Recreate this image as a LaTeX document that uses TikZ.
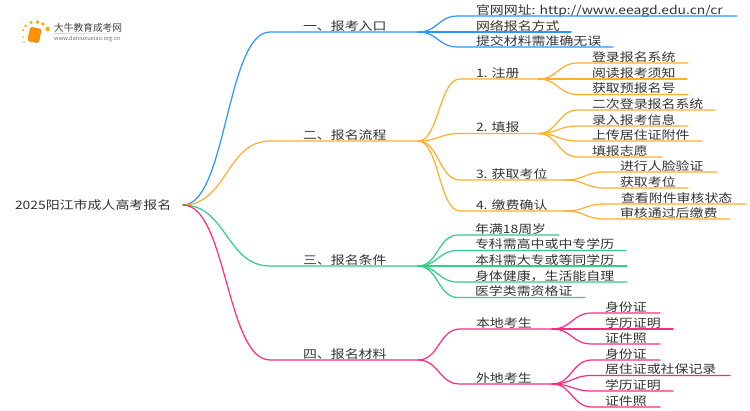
\documentclass[tikz,border=0pt]{standalone}
\usepackage{fontspec}
\usetikzlibrary{calc}
\setmainfont[FakeStretch=1.2]{Noto Sans CJK SC}
\newfontfamily\plaincjk{Noto Sans CJK SC}
\definecolor{cblue}{HTML}{2B95FF}
\definecolor{corange}{HTML}{FFAF2B}
\definecolor{cgreen}{HTML}{33CC88}
\definecolor{cpink}{HTML}{FF2A80}
\definecolor{ctext}{HTML}{333333}
\tikzset{
  lab/.style={anchor=base west,inner sep=0pt,outer sep=0pt,text=ctext,font=\fontsize{11.6}{12}\selectfont},
  wire/.style={line width=1.2pt,line cap=round},
}
% #1 colour, #2 parent, #3 name, #4 x start, #5 x end, #6 y, #7 x text, #8 text
\newcommand\twig[8]{%
  \coordinate (#3) at (#4,#6);
  \coordinate (#3-e) at (#5,#6);
  \coordinate (#3-m) at ($(#2)!0.5!(#3)$);
  \node[lab] (#3-t) at (#7,#6-2) {#8};
  \draw[wire,#1] (#2) .. controls (#3-m |- #2) and (#3-m |- #3) .. (#3) -- (#3-e);
}
\begin{document}
\begin{tikzpicture}[x=1pt,y=-1pt]
\useasboundingbox (0,0) rectangle (750,410);
\fill[white] (0,0) rectangle (750,410);
% logo
\foreach \i/\a/\b/\r in {1/23/30/1.1,2/25.5/26/1.3,3/31/22.5/1.7,4/37.5/22/1.8,5/43/24/1.8,6/47.5/29/2.2,7/23/37/0.9,8/24/42/0.8}
  \fill[orange!70!yellow] (\a,\b) circle (\r);
\node[draw=orange!90!black,fill=orange!85!yellow,rounded corners=1.5pt,minimum width=11pt,minimum height=14pt,inner sep=0pt,rotate=-12] (book) at (34.5,35) {};
\shade[left color=gray!35,right color=white] (54,33) rectangle (133,33.6);
\node[anchor=base west,inner sep=0pt,text=black!75] (brand) at (54,31) {\plaincjk\fontsize{9.7}{10}\selectfont 大牛教育成考网};
\node[anchor=base west,inner sep=0pt,text=black!55] (url) at (54,40.5) {\plaincjk\fontsize{5.7}{6}\selectfont www.daniuxueiao.org.cn};
% root
\node[lab] (root) at (15,209) {2025阳江市成人高考报名};
\coordinate (r) at (183,205);
% level 1
\twig{cblue}{r}{a}{270}{418}{32}{303}{一、报考入口}
\twig{corange}{r}{b}{270}{418}{141}{303}{二、报名流程}
\twig{cgreen}{r}{c}{270}{418}{266}{303}{三、报名条件}
\twig{cpink}{r}{d}{270}{418}{360}{303}{四、报名材料}
% blue
\twig{cblue}{a-e}{a1}{458}{737}{16}{476}{官网网址: http://www.eeagd.edu.cn/cr}
\twig{cblue}{a-e}{a2}{458}{571}{32}{476}{网络报名方式}
\twig{cblue}{a-e}{a3}{458}{613}{47}{476}{提交材料需准确无误}
% orange
\twig{corange}{b-e}{b1}{460}{538}{79}{476}{1. 注册}
\twig{corange}{b-e}{b2}{460}{538}{133.5}{476}{2. 填报}
\twig{corange}{b-e}{b3}{460}{565}{180}{476}{3. 获取考位}
\twig{corange}{b-e}{b4}{460}{565}{211}{476}{4. 缴费确认}
\twig{corange}{b1-e}{b11}{578}{688}{63}{592}{登录报名系统}
\twig{corange}{b1-e}{b12}{578}{687}{79}{592}{阅读报考须知}
\twig{corange}{b1-e}{b13}{578}{688}{94.5}{592}{获取预报名号}
\twig{corange}{b2-e}{b21}{578}{715}{110}{592}{二次登录报名系统}
\twig{corange}{b2-e}{b22}{578}{688}{126}{592}{录入报考信息}
\twig{corange}{b2-e}{b23}{578}{702}{141}{592}{上传居住证附件}
\twig{corange}{b2-e}{b24}{578}{662}{157}{592}{填报志愿}
\twig{corange}{b3-e}{b31}{605}{717}{172}{620}{进行人脸验证}
\twig{corange}{b3-e}{b32}{605}{688}{188}{620}{获取考位}
\twig{corange}{b4-e}{b41}{605}{746}{204}{621}{查看附件审核状态}
\twig{corange}{b4-e}{b42}{605}{730}{219}{620}{审核通过后缴费}
% green
\twig{cgreen}{c-e}{c1}{458}{559}{235}{475}{年满18周岁}
\twig{cgreen}{c-e}{c2}{458}{626}{250.5}{475}{专科需高中或中专学历}
\twig{cgreen}{c-e}{c3}{458}{627}{266}{475}{本科需大专或等同学历}
\twig{cgreen}{c-e}{c4}{458}{627}{282}{475}{身体健康，生活能自理}
\twig{cgreen}{c-e}{c5}{458}{585}{297.5}{475}{医学类需资格证}
% pink
\twig{cpink}{d-e}{d1}{460}{552}{329}{476}{本地考生}
\twig{cpink}{d-e}{d2}{460}{552}{384}{476}{外地考生}
\twig{cpink}{d1-e}{d11}{592}{660}{313}{605}{身份证}
\twig{cpink}{d1-e}{d12}{592}{673}{329}{605}{学历证明}
\twig{cpink}{d1-e}{d13}{592}{660}{344}{605}{证件照}
\twig{cpink}{d2-e}{d21}{592}{660}{360}{605}{身份证}
\twig{cpink}{d2-e}{d22}{592}{730}{375.5}{605}{居住证或社保记录}
\twig{cpink}{d2-e}{d23}{592}{673}{391}{605}{学历证明}
\twig{cpink}{d2-e}{d24}{592}{660}{407}{605}{证件照}
\end{tikzpicture}
\end{document}
